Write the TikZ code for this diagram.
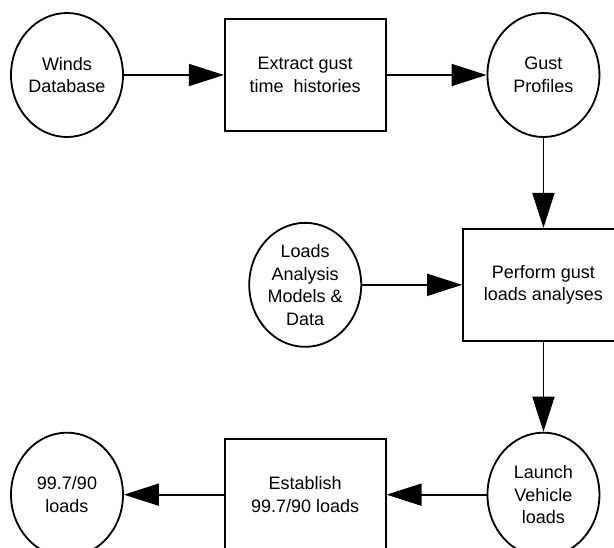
\documentclass[tikz,border=0pt]{standalone}
\usepackage{fontspec}
\setmainfont{Liberation Sans}
\usetikzlibrary{shapes.geometric, arrows.meta, positioning}

\begin{document}
\begin{tikzpicture}[
  % Node styles
  datanode/.style={
    ellipse, draw, line width=1.3pt,
    minimum width=2.8cm, minimum height=3.1cm,
    inner sep=0pt, align=center,
    font=\fontsize{12.8}{16}\selectfont
  },
  procnode/.style={
    rectangle, draw, line width=1.3pt,
    minimum width=4.02cm, minimum height=2.8cm,
    align=center,
    font=\fontsize{12.8}{16}\selectfont
  },
  % Arrow style
  arr/.style={-{Triangle[length=0.875cm, width=0.55cm]}, line width=1.2pt},
  node distance=2.25cm and 2.5cm
]
\useasboundingbox (-1.675,-11.8) rectangle (13.675,1.875);

%% ── Top row ──────────────────────────────────────────────────
\node[datanode]                      (winds)    {Winds\\Database};
\node[procnode, right=of winds]      (extract)  {Extract gust\\time\ \ histories};
\node[datanode, right=of extract]    (gust)     {Gust\\Profiles};

%% ── Middle row ───────────────────────────────────────────────
\node[procnode, below=of gust]       (perform)  {Perform gust\\loads analyses};
\node[datanode, left=of perform]     (models)   {Loads\\Analysis\\Models \&\\Data};

%% ── Bottom row ───────────────────────────────────────────────
\node[datanode, below=of perform]    (lvloads)  {Launch\\Vehicle\\loads};
\node[procnode, left=of lvloads]     (establish){Establish\\99.7/90 loads};
\node[datanode, left=of establish]   (result)   {99.7/90\\loads};

%% ── Arrows: top row ──────────────────────────────────────────
\draw[arr] (winds)   -- (extract);
\draw[arr] (extract) -- (gust);

%% ── Arrows: into and out of the analyses ─────────────────────
\draw[arr] (gust)    -- (perform);
\draw[arr] (models)  -- (perform);
\draw[arr] (perform) -- (lvloads);

%% ── Arrows: bottom row, right to left ────────────────────────
\draw[arr] (lvloads)   -- (establish);
\draw[arr] (establish) -- (result);

\end{tikzpicture}
\end{document}
